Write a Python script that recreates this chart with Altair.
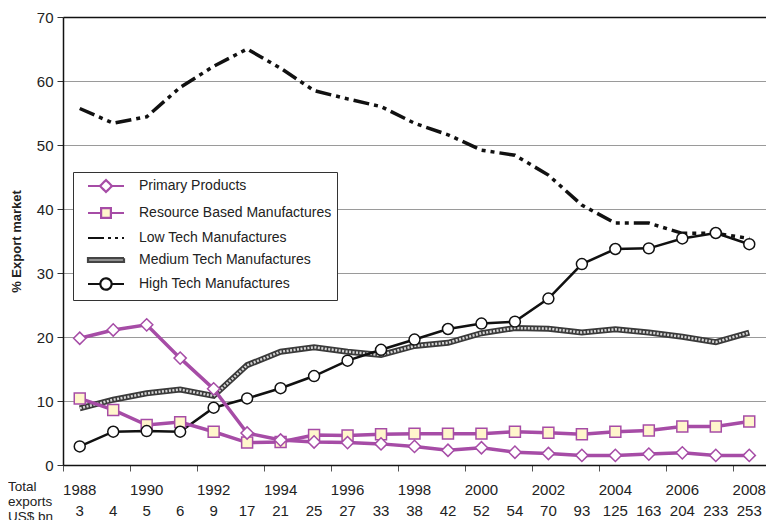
import altair as alt
import pandas as pd

years = list(range(1988, 2009))
totals = [3, 4, 5, 6, 9, 17, 21, 25, 27, 33, 38, 42, 52, 54, 70, 93, 125, 163, 204, 233, 253]

primary = [19.8, 21.1, 21.9, 16.7, 11.9, 5.0, 3.9, 3.6, 3.5, 3.3, 2.9, 2.3, 2.7, 2.0,
           1.8, 1.5, 1.5, 1.7, 1.9, 1.5, 1.5]
resource = [10.4, 8.6, 6.25, 6.7, 5.2, 3.5, 3.6, 4.7, 4.6, 4.8, 4.9, 4.9, 4.9, 5.2,
            5.05, 4.8, 5.2, 5.4, 6.0, 6.0, 6.8]
low_tech = [55.7, 53.4, 54.4, 59.0, 62.3, 65.0, 62.0, 58.5, 57.2, 56.0, 53.4, 51.6, 49.2, 48.4,
            45.3, 40.6, 37.8, 37.8, 36.2, 36.2, 35.4]
medium_tech = [8.85, 10.2, 11.2, 11.8, 10.8, 15.6, 17.7, 18.4, 17.7, 17.2, 18.6, 19.1, 20.6, 21.4,
               21.3, 20.7, 21.2, 20.7, 20.05, 19.2, 20.7]
high_tech = [2.9, 5.2, 5.3, 5.2, 8.95, 10.4, 12.0, 13.9, 16.3, 18.0, 19.6, 21.25, 22.1, 22.4,
             26.0, 31.4, 33.75, 33.85, 35.4, 36.25, 34.5]

series_names = ["Primary Products", "Resource Based Manufactures", "Low Tech Manufactures",
                "Medium Tech Manufactures", "High Tech Manufactures"]
row_label = ["Total", "exports", "US$ bn"]

PURPLE = "#a64ca6"
CREAM = "#fff6cc"
FONT = "Liberation Sans"

rows = []
for name, vals in zip(series_names, [primary, resource, low_tech, medium_tech, high_tech]):
    for yr, v in zip(years, vals):
        rows.append({"year": yr, "series": name, "value": v})
df = pd.DataFrame(rows)

xscale = alt.Scale(domain=[1987.5, 2008.5], nice=False, zero=False)
yscale = alt.Scale(domain=[0, 70], nice=False)
boundaries = [y - 0.5 for y in years] + [years[-1] + 0.5]

X = alt.X("year:Q", scale=xscale,
          axis=alt.Axis(values=boundaries, labels=False, tickSize=6, tickColor="#555",
                        domainColor="#111", domainWidth=1.5, grid=False, title=None))
Y = alt.Y("value:Q", scale=yscale,
          axis=alt.Axis(values=[0, 10, 20, 30, 40, 50, 60, 70], tickSize=6, tickColor="#333",
                        domainColor="#111", domainWidth=1.5, labelFontSize=15, labelFont=FONT,
                        labelColor="#222", labelPadding=4,
                        gridColor={"expr": "datum.value == 70 ? '#111' : '#9a9a9a'"},
                        gridWidth={"expr": "datum.value == 70 ? 1.6 : 1"},
                        title="% Export market", titleFont=FONT, titleFontSize=13,
                        titleFontWeight="bold", titleColor="#222",
                        titleAngle=270, titleX=-47, titleY=224,
                        titleAlign="center", titleBaseline="middle"))

base = alt.Chart(df)

def sel(name):
    return base.transform_filter(alt.datum.series == name)

low_line = sel("Low Tech Manufactures").mark_line(
    color="#111", strokeWidth=3.5, strokeDash=[16, 5, 4, 5, 4, 5]).encode(x=X, y=Y)
med_outer = sel("Medium Tech Manufactures").mark_line(
    color="#3a3a3a", strokeWidth=6).encode(x=X, y=Y)
med_inner = sel("Medium Tech Manufactures").mark_line(
    color="#d4d4d4", strokeWidth=2.5, strokeDash=[2, 1.5]).encode(x=X, y=Y)
high_line = sel("High Tech Manufactures").mark_line(
    color="#111", strokeWidth=2.5).encode(x=X, y=Y)
res_line = sel("Resource Based Manufactures").mark_line(
    color=PURPLE, strokeWidth=3.5).encode(x=X, y=Y)
prim_line = sel("Primary Products").mark_line(
    color=PURPLE, strokeWidth=3.5).encode(x=X, y=Y)

res_pts = sel("Resource Based Manufactures").mark_point(
    shape="square", filled=True, fill=CREAM, stroke=PURPLE, strokeWidth=1.5,
    size=120, opacity=1).encode(x=X, y=Y)
prim_pts = sel("Primary Products").mark_point(
    shape="diamond", filled=True, fill="white", stroke=PURPLE, strokeWidth=1.5,
    size=150, opacity=1).encode(x=X, y=Y)
high_pts = sel("High Tech Manufactures").mark_point(
    shape="circle", filled=True, fill="white", stroke="#111", strokeWidth=1.5,
    size=120, opacity=1).encode(x=X, y=Y)

# legend-only layer
legend_shapes = [
    "M-2.4,0L-0.8,0M0.8,0L2.4,0M0,-0.8L0.8,0L0,0.8L-0.8,0Z",
    "M-2.4,0L-0.65,0M0.65,0L2.4,0M-0.65,-0.65L0.65,-0.65L0.65,0.65L-0.65,0.65Z",
    "M-2.4,0L2.4,0",
    "M-2.4,-0.25L2.4,-0.25L2.4,0.25L-2.4,0.25Z",
    "M-2.4,0L-0.75,0M0.75,0L2.4,0M0.75,0A0.75,0.75,0,1,1,-0.75,0A0.75,0.75,0,1,1,0.75,0Z",
]
legend_fill = ["white", CREAM, "transparent", "#aaaaaa", "white"]
legend_stroke = [PURPLE, PURPLE, "#111", "#444", "#111"]
legend_dash = [[1, 0], [1, 0], [16, 4, 3, 4, 3, 4], [1, 0], [1, 0]]

leg = alt.Legend(title=None, orient="none", legendX=10, legendY=155,
                 symbolSize=225, symbolStrokeWidth=2.2, symbolOffset=19,
                 labelOffset=24, labelFontSize=14, labelFont=FONT, labelColor="#222",
                 labelLimit=400, rowPadding=6, padding=5, strokeColor="#333",
                 fillColor="white", symbolOpacity=1)
legend_layer = alt.Chart(pd.DataFrame({"series": series_names})).transform_filter(
    "false").mark_point(filled=True, opacity=1).encode(
    shape=alt.Shape("series:N", scale=alt.Scale(domain=series_names, range=legend_shapes),
                    legend=leg, sort=series_names),
    fill=alt.Fill("series:N", scale=alt.Scale(domain=series_names, range=legend_fill),
                  legend=leg, sort=series_names),
    stroke=alt.Stroke("series:N", scale=alt.Scale(domain=series_names, range=legend_stroke),
                      legend=leg, sort=series_names),
    strokeDash=alt.StrokeDash("series:N", scale=alt.Scale(domain=series_names, range=legend_dash),
                              legend=leg, sort=series_names),
)

# bottom labels
lab_df = pd.DataFrame({"year": years, "total": [str(t) for t in totals]})
year_text = alt.Chart(lab_df).transform_filter("datum.year % 2 == 0").mark_text(
    fontSize=15, font=FONT, color="#222", baseline="middle").encode(
    x=alt.X("year:Q", scale=xscale), y=alt.value(473), text="year:N")
total_text = alt.Chart(lab_df).mark_text(
    fontSize=15, font=FONT, color="#222", baseline="middle").encode(
    x=alt.X("year:Q", scale=xscale), y=alt.value(494), text="total:N")
row_text = alt.Chart(pd.DataFrame({"t": ["\n".join(row_label)]})).mark_text(
    fontSize=13.5, font=FONT, color="#222", align="left", baseline="alphabetic",
    lineBreak="\n", lineHeight=15).encode(
    x=alt.value(-55), y=alt.value(474), text="t:N")

chart = alt.layer(
    low_line, med_outer, med_inner, high_line, res_line, prim_line,
    res_pts, prim_pts, high_pts, legend_layer, year_text, total_text, row_text,
).properties(
    width=703, height=448,
    autosize=alt.AutoSizeParams(type="none"),
    padding={"left": 55, "top": 9, "right": 0, "bottom": 55},
).configure_view(stroke="#888", strokeWidth=2).configure(background="white")

chart.save("out.html", embed_options={"renderer": "svg", "actions": False})
